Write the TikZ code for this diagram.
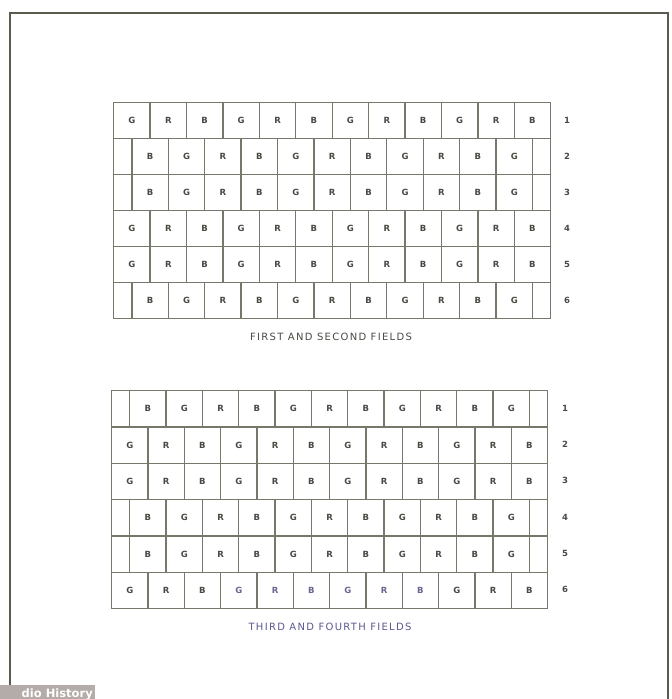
\documentclass[tikz,border=0pt]{standalone}
\usepackage{fontspec}
\newfontfamily\capfont[LetterSpace=13]{DejaVu Sans}
\newfontfamily\cellfont{DejaVu Sans Bold}
\newfontfamily\wmfont{DejaVu Sans Bold}
\definecolor{linec}{HTML}{77776A}
\definecolor{framec}{HTML}{5A5A4E}
\definecolor{txtc}{HTML}{4A4A44}
\definecolor{capc}{HTML}{5C5890}
\definecolor{hlc}{HTML}{6A6690}
\definecolor{wmc}{HTML}{B3ACA9}
\newcommand\lettA[1]{\ifcase#1 G\or R\or B\fi}
\newcommand\lettB[1]{\ifcase#1 B\or G\or R\fi}
\begin{document}
\begin{tikzpicture}[x=1pt,y=-1pt,
  cell/.style={draw=linec, line width=1.3pt, anchor=north west, inner sep=0pt,
    font=\cellfont\fontsize{8.5}{8.5}\selectfont, text=txtc},
  rownum/.style={font=\cellfont\fontsize{8.5}{8.5}\selectfont, text=txtc, inner sep=0pt},
  caption/.style={font=\capfont\fontsize{10}{10}\selectfont, inner sep=0pt}]
\useasboundingbox (0,0) rectangle (672,699);
\fill[white] (0,0) rectangle (672,699);
% outer frame
\draw[framec, line width=2.2pt] (10,692) -- (10,13) -- (668,13) -- (668,699);
% ---------- grid macro ----------
\newcommand\fieldgrid[7]{% #1 prefix, #2 x0, #3 ytop, #4 w, #5 h, #6 row list, #7 highlighted row
  \foreach \r/\t in {#6}{
    \pgfmathsetmacro\yy{#3+(\r-1)*#5}
    \pgfmathsetmacro\hw{#4/2}
    \if\t A
      \foreach \c in {0,...,11}{
        \pgfmathtruncatemacro\m{mod(\c,3)}
        \pgfmathtruncatemacro\hl{(\r==#7)&&(\c>2)&&(\c<9)}
        \ifnum\hl=1 \def\tc{hlc}\else\def\tc{txtc}\fi
        \node[cell, text=\tc, minimum width=#4 pt, minimum height=#5 pt] (#1-\r-\c) at ({#2+\c*#4},\yy) {\lettA{\m}};
      }
    \else
      \node[cell, minimum width=\hw pt, minimum height=#5 pt] (#1-\r-a) at (#2,\yy) {};
      \foreach \c in {0,...,10}{
        \pgfmathtruncatemacro\m{mod(\c,3)}
        \node[cell, minimum width=#4 pt, minimum height=#5 pt] (#1-\r-\c) at ({#2+\hw+\c*#4},\yy) {\lettB{\m}};
      }
      \node[cell, minimum width=\hw pt, minimum height=#5 pt] (#1-\r-z) at ({#2+\hw+11*#4},\yy) {};
    \fi
  }
}
% first and second fields
\fieldgrid{fa}{113}{102}{36.42}{36}{1/A,2/B,3/B,4/A,5/A,6/B}{0}
\foreach \r in {1,...,6}{
  \node[rownum] (fa-n\r) at (567,{102+(\r-0.5)*36}) {\r};
}
\node[caption, text=txtc] (capa) at (331,337) {FIRST AND SECOND FIELDS};
% third and fourth fields
\fieldgrid{fb}{111}{390}{36.33}{36.33}{1/B,2/A,3/A,4/B,5/B,6/A}{6}
\foreach \r in {1,...,6}{
  \node[rownum] (fb-n\r) at (565,{390+(\r-0.5)*36.33}) {\r};
}
\node[caption, text=capc] (capb) at (330,627) {THIRD AND FOURTH FIELDS};
% watermark
\fill[wmc] (0,685) rectangle (95,699);
\node[font=\wmfont\fontsize{11.5}{11.5}\selectfont, text=white, anchor=base east, inner sep=0pt] (wm) at (93,697) {dio History};
\end{tikzpicture}
\end{document}
